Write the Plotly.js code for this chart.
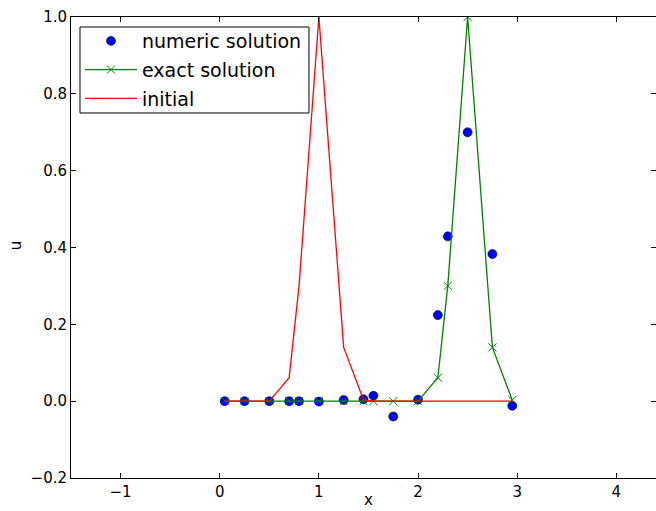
<!DOCTYPE html>
<html><head><meta charset="utf-8">
<script src="https://cdn.plot.ly/plotly-3.0.1.min.js"></script>
<style>body{margin:0;background:#fff}#c{width:656px;height:511px}</style>
</head><body><div id="c"></div>
<script>
const xs = [0.05, 0.25, 0.5, 0.7, 0.8, 1.0, 1.25, 1.45, 1.55, 1.75, 2.0, 2.2, 2.3, 2.5, 2.75, 2.95];
const numeric = [0, 0, 0, 0, 0, -0.001, 0.003, 0.005, 0.014, -0.040, 0.004, 0.224, 0.429, 0.70, 0.383, -0.012];
const exact   = [0, 0, 0, 0, 0, 0, 0, 0, 0, 0, 0, 0.061, 0.30, 1.0, 0.14, 0.003];
const initial = [0, 0, 0, 0.061, 0.30, 1.0, 0.14, 0.003, 0, 0, 0, 0, 0, 0, 0, 0];
const xTicks = [-1, 0, 1, 2, 3, 4];
const yTicks = [-0.2, 0.0, 0.2, 0.4, 0.6, 0.8, 1.0];

const traces = [
  {x: xs, y: numeric, name: 'numeric solution', legendgroup: 'a', mode: 'markers', type: 'scatter',
   marker: {color: '#0000ff', size: 9, line: {color: '#000000', width: 0.6}}},
  {x: xs, y: exact, name: 'exact solution', legendgroup: 'b', mode: 'lines+markers', type: 'scatter',
   line: {color: '#008000', width: 1.3},
   marker: {symbol: 'x-thin-open', color: '#008000', size: 8, line: {color: '#008000', width: 1}}},
  {x: xs, y: initial, name: 'initial', legendgroup: 'c', mode: 'lines', type: 'scatter',
   line: {color: '#ff0000', width: 1.3}}
];
const axisCommon = {showgrid: false, zeroline: false, showline: true, linecolor: '#000', linewidth: 1,
  mirror: 'ticks', ticks: 'inside', ticklen: 5, tickcolor: '#000', tickwidth: 1,
  tickfont: {family: 'DejaVu Sans', size: 15, color: '#000'}};
const layout = {
  width: 656, height: 511,
  margin: {l: 71, r: 0, t: 17, b: 33},
  paper_bgcolor: '#fff', plot_bgcolor: '#fff',
  font: {family: 'DejaVu Sans', color: '#000'},
  showlegend: true,
  legend: {x: 0.0154, y: 0.989, xanchor: 'left', yanchor: 'top', bgcolor: 'rgba(0,0,0,0)',
    borderwidth: 0, itemwidth: 52, traceorder: 'grouped', tracegroupgap: 1,
    font: {family: 'DejaVu Sans', size: 19, color: '#000'}},
  shapes: [
    {type: 'rect', xref: 'paper', yref: 'paper', x0: 0.01538, x1: 0.4068, y0: 0.7918, y1: 0.9783,
     fillcolor: '#fff', line: {color: '#000', width: 1}, layer: 'above'}
  ],
  xaxis: Object.assign({}, axisCommon, {range: [-1.5, 4.4], tickvals: xTicks,
    ticktext: xTicks.map(v => v < 0 ? '\u2212' + Math.abs(v) : String(v))}),
  yaxis: Object.assign({}, axisCommon, {range: [-0.2, 1.0], tickvals: yTicks,
    ticktext: yTicks.map(v => (v < 0 ? '\u2212' : '') + Math.abs(v).toFixed(1))}),
  annotations: [
    {text: 'x', xref: 'paper', yref: 'paper', x: 0.509, y: -0.0716, xanchor: 'center', yanchor: 'bottom',
     showarrow: false, font: {family: 'DejaVu Sans', size: 15, color: '#000'}},
    {text: 'u', xref: 'paper', yref: 'paper', x: -0.094, y: 0.505, xanchor: 'center', yanchor: 'middle',
     textangle: -90, showarrow: false, font: {family: 'DejaVu Sans', size: 15, color: '#000'}}
  ]
};
Plotly.newPlot('c', traces, layout, {displayModeBar: false});
</script></body></html>
